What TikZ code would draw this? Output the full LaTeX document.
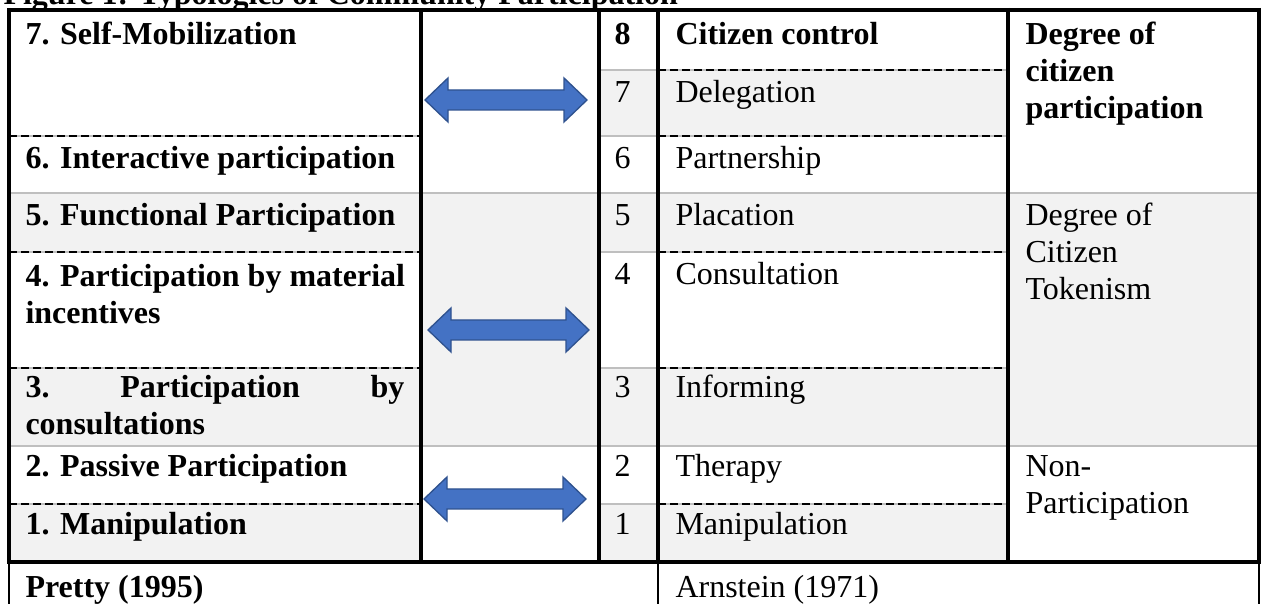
\documentclass[tikz,border=0pt]{standalone}
\usepackage{fontspec}
\setmainfont{Liberation Serif}
\definecolor{cellgray}{HTML}{F2F2F2}
\definecolor{rulegray}{HTML}{BFBFBF}
\definecolor{arrowblue}{HTML}{4472C4}
\definecolor{arrowedge}{HTML}{2F528F}
\newcommand\dblarrow[3]{%
  \draw[arrowshape] (#1,#3) -- (#1+23,#3-22) -- (#1+23,#3-10) -- (#2-23,#3-10)
    -- (#2-23,#3-22) -- (#2,#3) -- (#2-23,#3+22) -- (#2-23,#3+10)
    -- (#1+23,#3+10) -- (#1+23,#3+22) -- cycle;}
\begin{document}
\begin{tikzpicture}[x=0.375pt,y=-0.375pt,
  every node/.style={inner sep=0pt, font=\fontsize{12}{13.8}\selectfont},
  boldtext/.style={font=\fontsize{12}{13.8}\selectfont\bfseries},
  lbl/.style={anchor=base west, align=left},
  thickrule/.style={line width=1.5pt, black},
  dashrule/.style={line width=1.1pt, black, dash pattern=on 3pt off 1.5pt},
  grayrule/.style={line width=0.6pt, rulegray},
  cellfill/.style={fill=cellgray},
  arrowshape/.style={fill=arrowblue, draw=arrowedge, line width=0.5pt}]
\useasboundingbox (0,0) rectangle (1261,604);
% cell shading
\fill[cellfill] (9,193) rectangle (421,252);
\fill[cellfill] (9,368) rectangle (421,446);
\fill[cellfill] (9,504) rectangle (421,562);
\fill[cellfill] (421,193) rectangle (599,446);
\foreach \a/\b in {70/136,193/252,368/446,504/562}
  \fill[cellfill] (599,\a) rectangle (1008,\b);
\fill[cellfill] (1008,193) rectangle (1259,446);
% thin gray rules
\draw[grayrule] (9,193) -- (1259,193);
\draw[grayrule] (9,446) -- (1259,446);
\foreach \y in {136,252,368,504} \draw[grayrule] (9,\y) -- (421,\y);
\foreach \y in {70,136,252,368,504} \draw[grayrule] (599,\y) -- (1008,\y);
% dashed rules
\foreach \y in {136,252,368,504} \draw[dashrule] (9,\y) -- (421,\y);
\foreach \y in {70,136,252,368,504} \draw[dashrule] (658,\y) -- (1008,\y);
% borders
\draw[thickrule] (7,10) -- (1261,10);
\draw[thickrule] (7,562) -- (1261,562);
\foreach \x in {9,421,599,658,1008,1259} \draw[thickrule] (\x,8) -- (\x,562);
\draw[line width=1pt] (9,562) -- (9,604);
\draw[line width=1pt] (1259,562) -- (1259,604);
\draw[line width=0.75pt] (658,562) -- (658,604);
% arrows
\dblarrow{425}{587}{100}
\dblarrow{428}{589}{330}
\dblarrow{424}{586}{499}
% title
\node[anchor=base west, boldtext] (title) at (3,5) {Figure 1: Typologies of Community Participation};
% Pretty column
\node[lbl,boldtext] (p7) at (25,45) {7. Self-Mobilization};
\node[lbl,boldtext] (p6) at (25,169) {6. Interactive participation};
\node[lbl,boldtext] (p5) at (25,226) {5. Functional Participation};
\node[lbl,boldtext] (p4) at (25,323.8) {4. Participation by material\\incentives};
\node[lbl,boldtext] (p3) at (25,434.8) {\hbox to 142.1pt{3.\hfill Participation\hfill by}\\consultations};
\node[lbl,boldtext] (p2) at (25,477) {2. Passive Participation};
\node[lbl,boldtext] (p1) at (25,535) {1. Manipulation};
\node[lbl,boldtext] (pretty) at (25,598) {Pretty (1995)};
% numbers
\node[lbl,boldtext] (n8) at (614,45) {8};
\node[lbl] (n7) at (614,103) {7};
\node[lbl] (n6) at (614,169) {6};
\node[lbl] (n5) at (614,226) {5};
\node[lbl] (n4) at (614,285) {4};
\node[lbl] (n3) at (614,398) {3};
\node[lbl] (n2) at (614,477) {2};
\node[lbl] (n1) at (614,535) {1};
% Arnstein column
\node[lbl,boldtext] (a8) at (675,45) {Citizen control};
\node[lbl] (a7) at (675,103) {Delegation};
\node[lbl] (a6) at (675,169) {Partnership};
\node[lbl] (a5) at (675,226) {Placation};
\node[lbl] (a4) at (675,285) {Consultation};
\node[lbl] (a3) at (675,398) {Informing};
\node[lbl] (a2) at (675,477) {Therapy};
\node[lbl] (a1) at (675,535) {Manipulation};
\node[lbl] (arnstein) at (675,598) {Arnstein (1971)};
% degree column
\node[lbl,boldtext] (d1) at (1025,118.6) {Degree of\\citizen\\participation};
\node[lbl] (d2) at (1025,299.6) {Degree of\\Citizen\\Tokenism};
\node[lbl] (d3) at (1025,513.8) {Non-\\Participation};
\end{tikzpicture}
\end{document}
